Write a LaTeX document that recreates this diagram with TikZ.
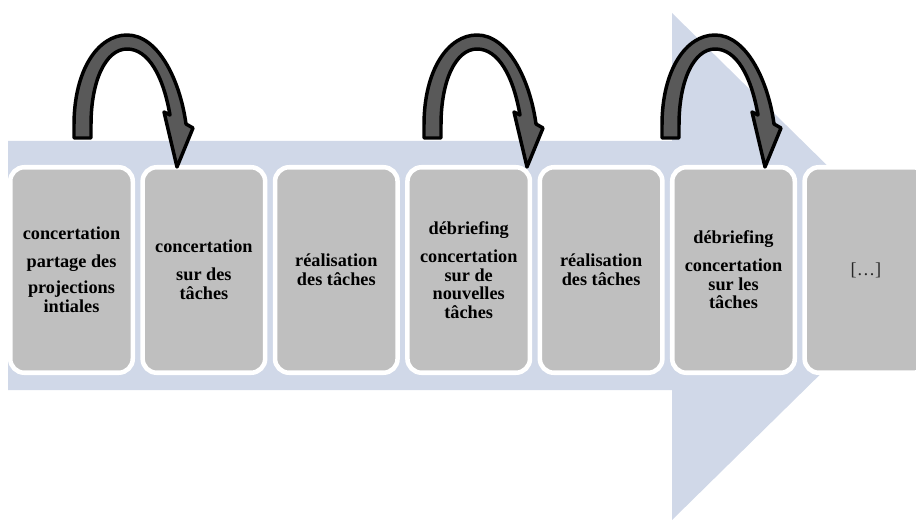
\documentclass[tikz,border=0pt]{standalone}
\usepackage{fontspec}
\setmainfont{Liberation Serif}
\definecolor{bluebg}{RGB}{208,216,232}
\definecolor{boxgray}{RGB}{191,191,191}
\definecolor{arrowgray}{RGB}{89,89,89}
\tikzset{
  stepbox/.style={draw=white, line width=3.4pt, fill=boxgray, rounded corners=10.5pt,
    minimum width=91.9pt, minimum height=154.1pt, inner sep=0pt, align=center,
    font=\fontsize{13.7pt}{13.9pt}\selectfont\bfseries},
  loopArrow/.pic={
    \draw[line width=2.6pt, line join=round, fill=arrowgray]
      (74,138) -- (74,125) .. controls (74,70) and (98,35) .. (127,35)
      .. controls (158,35) and (180,80) .. (186,124)
      -- (193,128) -- (177,167) -- (164,112) -- (170,115)
      .. controls (163,75) and (148,49) .. (127,49)
      .. controls (106,49) and (91,80) .. (91,125) -- (91,138) -- cycle;
  }
}
\begin{document}
\begin{tikzpicture}[x=0.75pt,y=-0.75pt]
\useasboundingbox (0,0) rectangle (916,520);
\clip (0,0) rectangle (916,520);
\fill[bluebg] (8,141) -- (672,141) -- (672,13) -- (930,266.5) -- (672,520) -- (672,390) -- (8,390) -- cycle;
\node[stepbox] (b1) at (71.5,270) {concertation\\[7.1pt]partage des\\[5.6pt]projections\\intiales};
\node[stepbox] (b2) at (203.9,270) {concertation\\[7.1pt]sur des\\tâches};
\node[stepbox] (b3) at (336.3,270) {réalisation\\des tâches};
\node[stepbox] (b4) at (468.7,270) {débriefing\\[7.1pt]concertation\\sur de\\nouvelles\\tâches};
\node[stepbox] (b5) at (601.1,270) {réalisation\\des tâches};
\node[stepbox] (b6) at (733.5,270) {débriefing\\[7.1pt]concertation\\sur les\\tâches};
\node[stepbox] (b7) at (865.9,270) {\mdseries\color{black!85}[…]};
\pic at (0,0) {loopArrow};
\pic at (350,0) {loopArrow};
\pic at (588,0) {loopArrow};
\end{tikzpicture}
\end{document}
